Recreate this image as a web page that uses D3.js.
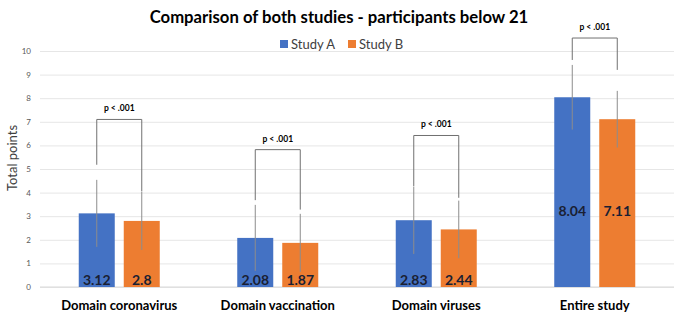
<!DOCTYPE html>
<html>
<head>
<meta charset="utf-8">
<script src="https://cdn.jsdelivr.net/npm/d3@7"></script>
<style>
  body { margin: 0; background: #fff; }
  svg { display: block; font-family: Lato, "Liberation Sans", Arial, sans-serif; }
</style>
</head>
<body>
<div id="chart"></div>
<script>
// Chart data
const categories = ['Domain coronavirus', 'Domain vaccination', 'Domain viruses', 'Entire study'];
const seriesNames = ['Study A', 'Study B'];
const studyA = [3.12, 2.08, 2.83, 8.04];
const studyB = [2.8, 1.87, 2.44, 7.11];
const sdA = [1.42, 1.40, 1.43, 1.37];
const sdB = [1.23, 1.23, 1.22, 1.2];
// significance brackets (top of bracket, bottom of left leg, bottom of right leg)
const bracketTop = [7.1, 5.82, 6.42, 10.55];
const legA = [5.18, 3.68, 4.28, 9.62];
const legB = [4.05, 3.28, 3.78, 9.2];
const pLabels = ['p < .001', 'p < .001', 'p < .001', 'p < .001'];
const yTicks = [0, 1, 2, 3, 4, 5, 6, 7, 8, 9, 10];

const width = 676, height = 317;
const margin = { top: 51, right: 2, bottom: 30, left: 40 };
const colors = { 'Study A': '#4472C4', 'Study B': '#ED7D31' };

const svg = d3.select('#chart').append('svg')
  .attr('width', width)
  .attr('height', height);

const x0 = d3.scaleBand()
  .domain(categories)
  .range([margin.left, width - margin.right])
  .padding(0);

const groupW = 81;
const x1 = d3.scaleBand()
  .domain(seriesNames)
  .range([x0.bandwidth() / 2 - groupW / 2, x0.bandwidth() / 2 + groupW / 2])
  .paddingInner(0.2);

const y = d3.scaleLinear()
  .domain([0, 10])
  .range([height - margin.bottom, margin.top]);

// Title
svg.append('text')
  .attr('x', 339)
  .attr('y', 23)
  .attr('text-anchor', 'middle')
  .style('font-size', '16.7px')
  .style('font-weight', 'bold')
  .style('fill', '#000')
  .text('Comparison of both studies - participants below 21');

// Legend
const legend = svg.append('g').attr('transform', 'translate(280,44)');
const legItems = legend.selectAll('g')
  .data(seriesNames)
  .enter()
  .append('g')
  .attr('transform', (d, i) => `translate(${i * 68},0)`);
legItems.append('rect')
  .attr('x', 0).attr('y', -4)
  .attr('width', 8).attr('height', 8)
  .attr('fill', d => colors[d]);
legItems.append('text')
  .attr('x', 11).attr('y', 4.5)
  .style('font-size', '13px')
  .style('fill', '#404040')
  .text(d => d);

// Grid + y axis
const yAxis = d3.axisLeft(y).tickValues(yTicks).tickSize(-(width - margin.left - margin.right)).tickPadding(9);
const yG = svg.append('g')
  .attr('transform', `translate(${margin.left},0)`)
  .call(yAxis);
yG.select('.domain').remove();
yG.selectAll('.tick line').attr('stroke', '#e6e6e6').attr('stroke-width', 1);
yG.selectAll('.tick text').style('font-size', '8px').style('fill', '#595959').attr('font-family', 'Lato, "Liberation Sans", Arial, sans-serif');

// Baseline
svg.append('line')
  .attr('x1', margin.left).attr('x2', width - margin.right)
  .attr('y1', y(0)).attr('y2', y(0))
  .attr('stroke', '#d9d9d9');

// Y axis title
svg.append('text')
  .attr('transform', `translate(17,${158}) rotate(-90)`)
  .attr('text-anchor', 'middle')
  .style('font-size', '13px')
  .style('fill', '#404040')
  .text('Total points');

// Bars
const rows = categories.map((c, i) => ({
  cat: c,
  vals: [
    { key: 'Study A', v: studyA[i], sd: sdA[i] },
    { key: 'Study B', v: studyB[i], sd: sdB[i] }
  ]
}));

const groups = svg.selectAll('.group')
  .data(rows)
  .enter()
  .append('g')
  .attr('class', 'group')
  .attr('transform', d => `translate(${x0(d.cat)},0)`);

groups.selectAll('rect')
  .data(d => d.vals)
  .enter()
  .append('rect')
  .attr('x', d => x1(d.key))
  .attr('y', d => y(d.v))
  .attr('width', x1.bandwidth())
  .attr('height', d => y(0) - y(d.v))
  .attr('fill', d => colors[d.key]);

// Error bars
groups.selectAll('.err')
  .data(d => d.vals)
  .enter()
  .append('line')
  .attr('class', 'err')
  .attr('x1', d => x1(d.key) + x1.bandwidth() / 2)
  .attr('x2', d => x1(d.key) + x1.bandwidth() / 2)
  .attr('y1', d => y(d.v + d.sd))
  .attr('y2', d => y(d.v - d.sd))
  .attr('stroke', '#8c8c8c')
  .attr('stroke-width', 1);

// Value labels (entire study labels sit higher in the bar)
groups.selectAll('.val')
  .data((d, gi) => d.vals.map(v => ({ ...v, gi })))
  .enter()
  .append('text')
  .attr('class', 'val')
  .attr('x', d => x1(d.key) + x1.bandwidth() / 2)
  .attr('y', d => d.gi === 3 ? y(3.2) + 5 : y(0) - 2)
  .attr('text-anchor', 'middle')
  .style('font-size', '14px')
  .style('font-weight', 'bold')
  .style('fill', '#1a1f33')
  .text(d => d.v);

// Significance brackets
const cx = k => x1(k) + x1.bandwidth() / 2;
groups.append('path')
  .attr('d', (d, i) => `M${cx('Study A')},${y(legA[i])}V${y(bracketTop[i])}H${cx('Study B')}V${y(legB[i])}`)
  .attr('fill', 'none')
  .attr('stroke', '#707070')
  .attr('stroke-width', 1);

groups.append('text')
  .attr('x', (cx('Study A') + cx('Study B')) / 2)
  .attr('y', (d, i) => y(bracketTop[i]) - 8)
  .attr('text-anchor', 'middle')
  .style('font-size', '8.5px')
  .style('font-weight', 'bold')
  .style('fill', '#000')
  .text((d, i) => pLabels[i]);

// Category labels
svg.append('g')
  .selectAll('text')
  .data(categories)
  .enter()
  .append('text')
  .attr('x', d => x0(d) + x0.bandwidth() / 2)
  .attr('y', 310)
  .attr('text-anchor', 'middle')
  .style('font-size', '13px')
  .style('font-weight', 'bold')
  .style('fill', '#000')
  .text(d => d);
</script>
</body>
</html>
